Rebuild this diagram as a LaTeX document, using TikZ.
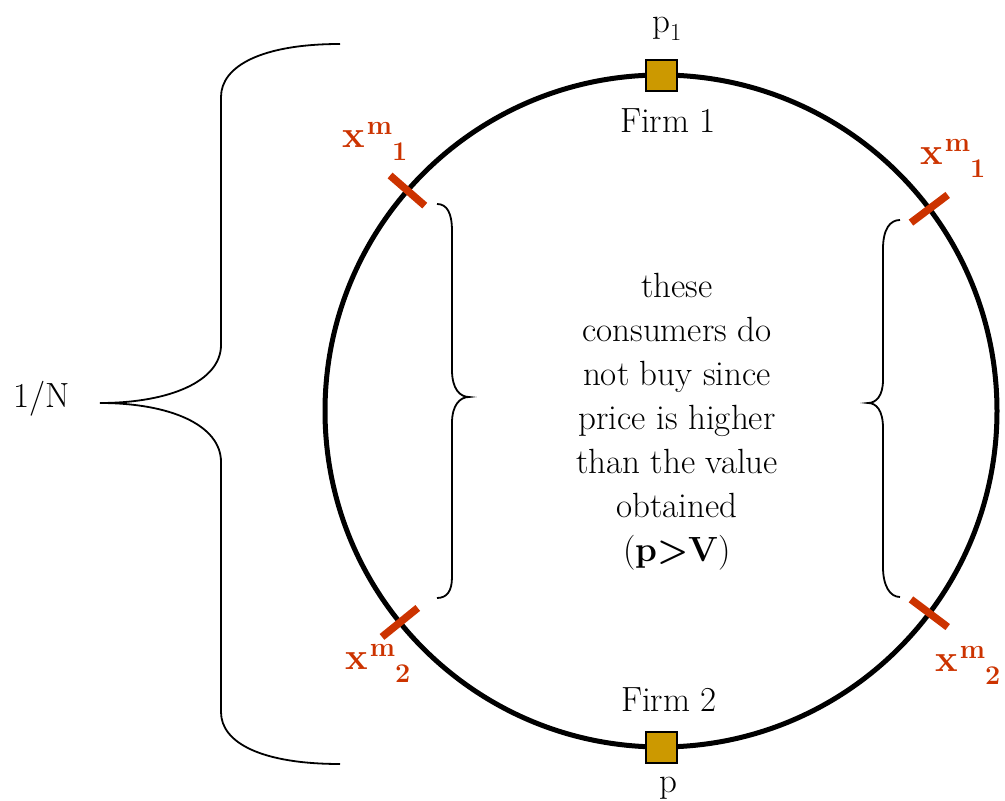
\documentclass[tikz,border=0pt]{standalone}
\usepackage{fontspec}
\definecolor{firmgold}{HTML}{CC9900}
\definecolor{markred}{HTML}{CC3300}
% bold x with superscript m and a trailing subscript index
\newcommand{\xmark}[1]{\textbf{\fontsize{38}{38}\selectfont x\hspace{2pt}\raisebox{13pt}{\fontsize{27}{27}\selectfont m}\raisebox{-13pt}{\fontsize{27}{27}\selectfont #1}}}
\tikzset{
  firm/.style={draw=black, line width=2pt, fill=firmgold, minimum size=31pt, inner sep=0pt},
  lbl/.style={inner sep=0pt, font=\fontsize{35}{42}\selectfont},
  redlbl/.style={inner sep=0pt, text=markred, anchor=base west},
  tickmark/.style={draw=markred, line width=7.5pt},
  bracket/.style={draw=black, line width=1.8pt},
  ring/.style={draw=black, line width=5pt}
}
\begin{document}
\begin{tikzpicture}[x=1pt,y=1pt]
\useasboundingbox (0,0) rectangle (1005,801);
% market circle
\coordinate (c) at (661,390);
\draw[ring] (c) circle (336);
% boundary ticks of the served markets
\foreach \a in {139,219,37,-37}
  \draw[tickmark, shift={(661,390)}] (\a:313) -- (\a:359);
% firms
\node[firm] (f1) at (661,725) {};
\node[firm] (f2) at (661,53) {};
\node[lbl, anchor=base] (p1) at (667,768) {p\textsubscript{1}};
\node[lbl, anchor=base] (firm1) at (668,668) {Firm 1};
\node[lbl, anchor=base] (firm2) at (669,89) {Firm 2};
\node[lbl, anchor=base] (p2) at (668,8) {p};
% marginal consumer labels
\node[redlbl] (xul) at (342,653) {\xmark{1}};
\node[redlbl] (xur) at (920,636) {\xmark{1}};
\node[redlbl] (xll) at (345,131) {\xmark{2}};
\node[redlbl] (xlr) at (935,129) {\xmark{2}};
% explanation in the middle
\node[inner sep=0pt, align=center, anchor=north, font=\fontsize{35}{44}\selectfont] (expl) at (677,528)
  {these\\consumers do\\not buy since\\price is higher\\than the value\\obtained\\(\textbf{p>V})};
% market share label
\node[lbl, anchor=base west] (share) at (13,393) {1/N};
% large brace
\coordinate (bt) at (340,757);
\coordinate (bb) at (340,37);
\coordinate (btip) at (100,398);
\draw[bracket] (bt) .. controls (262,757) and (221,735) .. (221,704)
  -- (221,456) .. controls (221,420) and (170,398) .. (btip)
  .. controls (170,398) and (221,376) .. (221,339)
  -- (221,89) .. controls (221,58) and (262,37) .. (bb);
% inner brace, left side
\coordinate (lt) at (437,597);
\coordinate (lb) at (437,203);
\coordinate (ltip) at (469,404);
\draw[bracket] (lt) .. controls (447,597) and (452,588) .. (452,570)
  -- (452,431) .. controls (452,412) and (460,404) .. (ltip)
  .. controls (460,404) and (452,396) .. (452,378)
  -- (452,224) .. controls (452,210) and (447,203) .. (lb);
% inner brace, right side
\coordinate (rt) at (900,581);
\coordinate (rb) at (900,204);
\coordinate (rtip) at (868,398);
\draw[bracket] (rt) .. controls (890,581) and (883,572) .. (883,552)
  -- (883,421) .. controls (883,405) and (876,398) .. (rtip)
  .. controls (876,398) and (883,391) .. (883,373)
  -- (883,234) .. controls (883,215) and (890,204) .. (rb);
\end{tikzpicture}
\end{document}
